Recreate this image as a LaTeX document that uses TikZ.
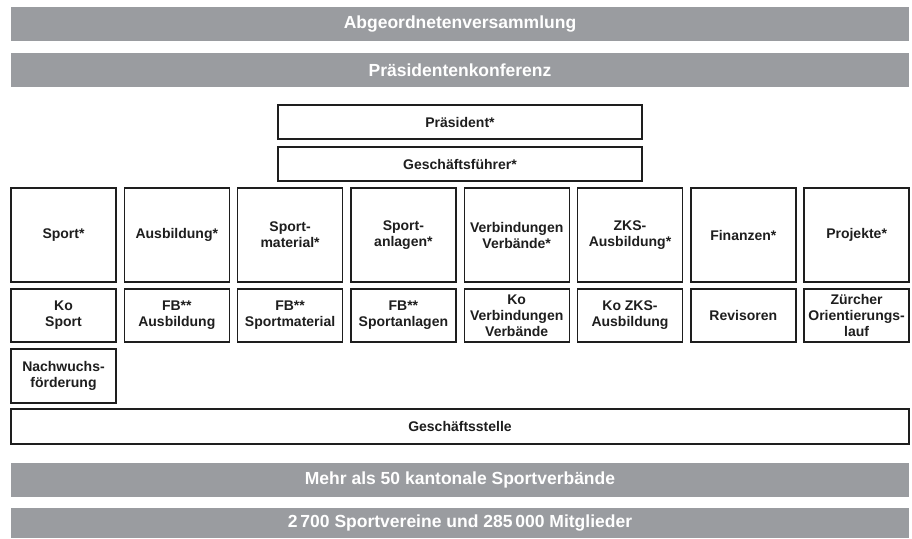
\documentclass[tikz,border=0pt]{standalone}
\usepackage{fontspec}
\setmainfont{Liberation Sans}
\usepackage{tikz}
\usetikzlibrary{positioning}
\usepackage{xcolor}
\definecolor{ink}{HTML}{1E1E1E}
\definecolor{band}{HTML}{9A9CA0}
\newcommand{\boxfont}{\bfseries\fontsize{14}{16}\selectfont}
\newcommand{\bandfont}{\bfseries\fontsize{17.5}{20}\selectfont}
\tikzset{
  every node/.style={font=\boxfont,text=ink,inner sep=0pt,outer sep=0pt},
  band/.style={fill=band,minimum width=898pt,minimum height=34pt,text=white,font=\bandfont},
  box/.style={draw=ink,line width=1.4pt,fill=white,align=center},
  widebox/.style={box,minimum width=364pt,minimum height=34pt},
  ressort/.style={box,minimum width=105pt,minimum height=94pt},
  kommission/.style={box,minimum width=105pt,minimum height=53pt},
  stelle/.style={box,minimum width=898pt,minimum height=35pt},
}

\begin{document}
\begin{tikzpicture}[node distance=7pt and 8.3pt]
\useasboundingbox (0,0) rectangle (912pt,-538pt);

\node[band] (av) at (460pt,-24pt) {Abgeordnetenversammlung};
\node[band,below=12pt of av] (pk) {Präsidentenkonferenz};
\node[widebox,below=18pt of pk] (praes) {Präsident*};
\node[widebox,below=8pt of praes] (gf) {Geschäftsführer*};

\node[ressort,anchor=north west] (sport) at (11pt,-188pt) {Sport*};
\node[ressort,right=of sport] (ausb) {Ausbildung*};
\node[ressort,right=of ausb] (mat) {Sport-\\material*};
\node[ressort,right=of mat] (anl) {Sport-\\anlagen*};
\node[ressort,right=of anl] (verb) {Verbindungen\\Verbände*};
\node[ressort,right=of verb] (zks) {ZKS-\\Ausbildung*};
\node[ressort,right=of zks] (fin) {Finanzen*};
\node[ressort,right=of fin] (proj) {Projekte*};

\node[kommission,below=of sport] (kosport) {Ko\\Sport};
\node[kommission,below=of ausb] (fbausb) {FB**\\Ausbildung};
\node[kommission,below=of mat] (fbmat) {FB**\\Sportmaterial};
\node[kommission,below=of anl] (fbanl) {FB**\\Sportanlagen};
\node[kommission,below=of verb] (koverb) {Ko\\Verbindungen\\Verbände};
\node[kommission,below=of zks] (kozks) {Ko ZKS-\\Ausbildung};
\node[kommission,below=of fin] (rev) {Revisoren};
\node[kommission,below=of proj] (zol) {Zürcher\\Orientierungs-\\lauf};
\node[kommission,below=of kosport,minimum height=54pt] (nachw) {Nachwuchs-\\förderung};

\node[stelle,anchor=north] (gs) at (460pt,-409pt) {Geschäftsstelle};
\node[band,below=19pt of gs] (kv) {Mehr als 50 kantonale Sportverbände};
\node[band,below=11pt of kv,minimum height=30pt] (sv) {2\,700 Sportvereine und 285\,000 Mitglieder};

\end{tikzpicture}
\end{document}
